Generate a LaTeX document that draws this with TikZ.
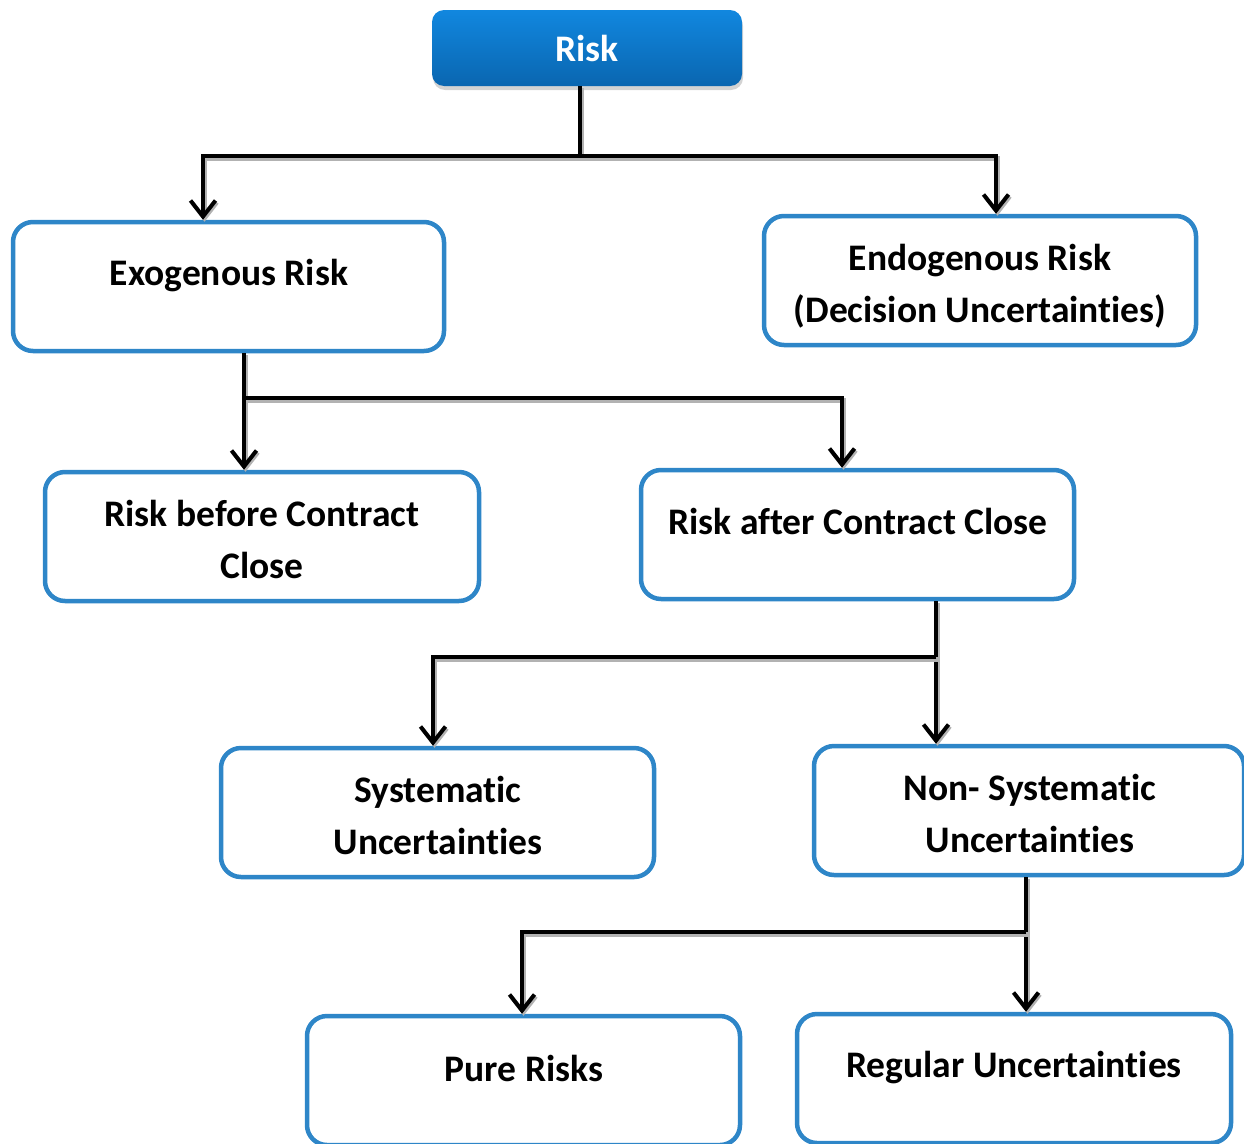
\documentclass[tikz,border=0pt]{standalone}
\usepackage{fontspec}
\setmainfont[Ligatures=NoCommon]{Carlito}
\usetikzlibrary{arrows.meta,shadows}

\definecolor{boxblue}{RGB}{46,134,200}
\definecolor{headtop}{RGB}{17,135,223}
\definecolor{headbot}{RGB}{10,102,176}

\begin{document}
\begin{tikzpicture}[x=1pt,y=-1pt,
  box/.style={draw=boxblue, line width=4.5pt, rounded corners=20pt, fill=white,
    inner sep=0pt, minimum height=129pt},
  txt/.style={align=center, inner sep=0pt, font=\bfseries\fontsize{37.5}{52}\selectfont},
  head/.style={rounded corners=12pt, top color=headtop, bottom color=headbot,
    draw=none, minimum width=310pt, minimum height=76pt, inner sep=0pt,
    drop shadow={shadow xshift=1pt, shadow yshift=-4pt, opacity=0.35},
    text=white, font=\bfseries\fontsize{37.5}{52}\selectfont},
  link/.style={draw=black, line width=4pt,
    preaction={draw=black!30, line width=5pt, transform canvas={shift={(1.5pt,-2pt)}}}},
  arrow/.style={link, -{Straight Barb[length=16pt, width=25pt, line width=4pt]}},
]
\useasboundingbox (0,0) rectangle (1244,1143);
\clip (0,0) rectangle (1244,1143);

% root
\node[head] (risk) at (587,48) {Risk};

% boxes
\node[box, minimum width=431pt] (exo)     at (228.5,286.5) {};
\node[box, minimum width=432pt] (endo)    at (980,280.5)   {};
\node[box, minimum width=434pt] (before)  at (262,536.5)   {};
\node[box, minimum width=433pt] (after)   at (857.5,534.5) {};
\node[box, minimum width=433pt] (sys)     at (437.5,812.5) {};
\node[box, minimum width=430pt] (nonsys)  at (1029,810.5)  {};
\node[box, minimum width=433pt] (pure)    at (523.5,1080.5) {};
\node[box, minimum width=434pt] (regular) at (1014,1078.5) {};

% labels
\node[txt] (exoT)     at (229,276)   {Exogenous Risk};
\node[txt] (endoT)    at (980,286)   {Endogenous Risk\\(Decision Uncertainties)};
\node[txt] (beforeT)  at (262,539)   {Risk before Contract\\Close};
\node[txt] (afterT)   at (858,521)   {Risk after Contract Close};
\node[txt] (sysT)     at (438,815)   {Systematic\\Uncertainties};
\node[txt] (nonsysT)  at (1030,813.5) {Non- Systematic\\Uncertainties};
\node[txt] (pureT)    at (524,1068)  {Pure Risks};
\node[txt] (regularT) at (1014,1068) {Regular Uncertainties};

% junctions
\coordinate (j1) at (580,156);
\coordinate (j2) at (244,398);
\coordinate (j3) at (936,657);
\coordinate (j4) at (1026,932);

% connectors
\draw[link]  ([xshift=-7pt]risk.south) -- (j1);
\draw[arrow] (j1) -| ([xshift=-25.5pt]exo.north);
\draw[arrow] (j1) -| ([xshift=16pt]endo.north);

\draw[link]  ([xshift=15.5pt]exo.south) -- (j2);
\draw[arrow] (j2) -- ([xshift=-18pt]before.north);
\draw[arrow] (j2) -| ([xshift=-15.5pt]after.north);

\draw[arrow] ([xshift=78.5pt]after.south) -- ([xshift=-93pt]nonsys.north);
\draw[arrow] (j3) -| ([xshift=-4.5pt]sys.north);

\draw[arrow] ([xshift=-3pt]nonsys.south) -- ([xshift=12pt]regular.north);
\draw[arrow] (j4) -| ([xshift=-1.5pt]pure.north);
\end{tikzpicture}
\end{document}
